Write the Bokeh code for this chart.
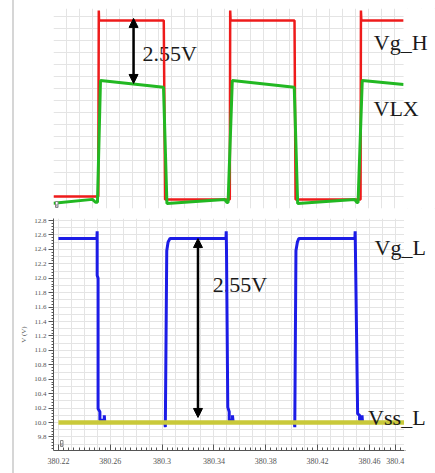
import numpy as np
from bokeh.plotting import figure
from bokeh.layouts import column, row
from bokeh.models import (Range1d, FixedTicker, SingleIntervalTicker, Arrow,
                          NormalHead, Label, ColumnDataSource, BoxAnnotation, Spacer)
from bokeh.core.properties import value
from bokeh.embed import file_html
from bokeh.resources import INLINE

# ---------------- data ----------------
# top panel: high-side gate (Vg_H) and switch node (VLX), volts (relative)
vgh_t = [380.2200, 380.2541, 380.2545, 380.2547, 380.3040, 380.3050, 380.3543,
         380.3546, 380.3549, 380.4036, 380.4044, 380.4539, 380.4542, 380.4545, 380.4867]
vgh_v = [0.50, 0.50, 8.25, 7.83, 7.83, 0.38, 0.38, 8.25, 7.83, 7.83, 0.38, 0.38,
         8.25, 7.83, 7.83]

vlx_t = [380.2200, 380.2497, 380.2520, 380.2535, 380.2558, 380.3038, 380.3064,
         380.3503, 380.3522, 380.3530, 380.3562, 380.4034, 380.4060, 380.4493,
         380.4512, 380.4520, 380.4552, 380.4867]
vlx_v = [0.22, 0.38, 0.26, 0.26, 5.33, 5.05, 0.21, 0.38, 0.25, 0.25, 5.33, 5.05,
         0.21, 0.38, 0.25, 0.25, 5.33, 5.17]

# bottom panel: low-side gate (Vg_L) and its reference (Vss_L), volts
vgl_t = [380.2200, 380.2497, 380.2499, 380.2499, 380.2506, 380.2506, 380.2520,
         380.2520, 380.2554, 380.2554, 380.2558,
         380.3021, 380.3025, 380.3036, 380.3046, 380.3061,
         380.3493, 380.3495, 380.3497, 380.3507, 380.3518, 380.3518, 380.3543,
         380.3543, 380.3549,
         380.4021, 380.4024, 380.4033, 380.4044, 380.4055,
         380.4488, 380.4490, 380.4492, 380.4509, 380.4524, 380.4524, 380.4543,
         380.4543, 380.4547, 380.4867]
vgl_v = [12.55, 12.55, 12.65, 12.04, 12.00, 10.19, 10.15, 10.03, 10.03, 10.10, 10.00,
         10.00, 9.935, 12.38, 12.50, 12.55,
         12.55, 12.65, 12.40, 10.21, 10.15, 10.03, 10.03, 10.10, 10.00,
         10.00, 9.935, 12.38, 12.50, 12.55,
         12.55, 12.65, 12.40, 10.12, 10.10, 10.03, 10.03, 10.10, 10.00, 10.00]

vss_t = [380.2200, 380.4867]
vss_v = [10.0, 10.0]

# annotations
top_arrow = dict(t=380.2810, v0=7.92, v1=5.21)
bot_arrow = dict(t=380.3277, v0=12.55, v1=10.07)
top_note = dict(t=380.2878, v=6.47, text="2.55V")
bot_note = dict(t=380.3391, v=11.92, text="2.55V")
top_names = [("Vg_H", 380.4640, 6.93), ("VLX", 380.4638, 4.15)]
bot_names = [("Vg_L", 380.4640, 12.43), ("Vss_L", 380.4590, 10.07)]

x_ticks = [380.22, 380.26, 380.30, 380.34, 380.38, 380.42, 380.46, 380.48]
x_tick_labels = ["380.22", "380.26", "380.3", "380.34", "380.38", "380.42",
                 "380.46", "380.4"]
y_ticks = [9.8, 10.0, 10.2, 10.4, 10.6, 10.8, 11.0, 11.2, 11.4, 11.6, 11.8,
           12.0, 12.2, 12.4, 12.6, 12.8]
y_tick_labels = ["9.8", "10.0", "10.2", "10.4", "10.6", "10.8", "11.0", "11.2",
                 "11.4", "11.6", "11.8", "12.0", "12.2", "12.4", "12.6", "12.8"]

T_END = 380.4867          # end of the recorded window
X_SPAN_END = 380.5110     # right edge of the canvas (room for trace names)

# ---------------- styling ----------------
RED = "#ee1b1b"
GREEN = "#22b822"
BLUE = "#1c1ce6"
YELLOW = "#c9c93a"
GRID = "#e4e4e4"
SERIF = "Liberation Serif"
TXT = "#1a1a1a"
EDGE = 14                 # width of the blank strip with the grey rule at left
FIG_W = 435 - EDGE

def base_style(p):
    p.outline_line_color = None
    p.background_fill_color = "white"
    p.border_fill_color = "white"
    for g in (p.xgrid, p.ygrid):
        g.grid_line_color = GRID
        g.grid_line_width = 1

def add_mask(p):
    # blank area right of the recorded window, where the trace names sit
    p.add_layout(BoxAnnotation(left=T_END, fill_color="white", fill_alpha=1.0,
                               line_color=None))

def add_arrow(p, a):
    p.add_layout(Arrow(
        start=NormalHead(size=9, fill_color="black", line_color="black"),
        end=NormalHead(size=9, fill_color="black", line_color="black"),
        x_start=a["t"], y_start=a["v0"], x_end=a["t"], y_end=a["v1"],
        line_color="black", line_width=2.5))

def add_note(p, n):
    src = ColumnDataSource(dict(x=[n["t"]], y=[n["v"]], text=[n["text"]]))
    p.text(x="x", y="y", text="text", source=src, text_font=value(SERIF),
           text_font_size="22px", text_color=TXT, text_align="left",
           text_baseline="middle")

def add_names(p, names):
    for txt, t, v in names:
        p.add_layout(Label(x=t, y=v, text=txt, text_font=SERIF,
                           text_font_size="22px", text_color=TXT,
                           text_align="left", text_baseline="alphabetic"))

# ---------------- top panel ----------------
top = figure(width=FIG_W, height=211, x_range=Range1d(380.22, X_SPAN_END),
             y_range=Range1d(0, 8.333), x_axis_location=None, y_axis_location=None,
             toolbar_location=None, output_backend="svg",
             min_border_left=53 - EDGE, min_border_right=0, min_border_top=8,
             min_border_bottom=3)
base_style(top)
top.xgrid.ticker = SingleIntervalTicker(interval=0.01)
top.ygrid.ticker = SingleIntervalTicker(interval=0.5)

add_note(top, top_note)
top.line(vgh_t, vgh_v, line_color=RED, line_width=2.5)
top.line(vlx_t, vlx_v, line_color=GREEN, line_width=3)
add_mask(top)
add_arrow(top, top_arrow)
add_names(top, top_names)
top.add_layout(Label(x=2, y=1, x_units="screen", y_units="screen", text="x",
                     text_font_size="5px", text_color="#666",
                     border_line_color="#888", background_fill_color="white"))

# ---------------- bottom panel ----------------
bot = figure(width=FIG_W, height=262, x_range=Range1d(380.2162, X_SPAN_END),
             y_range=Range1d(9.612, 12.828), toolbar_location=None,
             output_backend="svg", min_border_left=48 - EDGE, min_border_right=0,
             min_border_top=7, min_border_bottom=23)
base_style(bot)
bot.xgrid.ticker = SingleIntervalTicker(interval=0.01)
bot.ygrid.ticker = SingleIntervalTicker(interval=0.1)

bot.xaxis.ticker = FixedTicker(ticks=x_ticks,
                               minor_ticks=list(np.arange(380.216, 380.4881, 0.004)))
bot.xaxis.major_label_overrides = dict(zip(x_ticks, x_tick_labels))
bot.xaxis.bounds = (380.2162, T_END)
bot.yaxis.ticker = FixedTicker(ticks=y_ticks,
                               minor_ticks=list(np.arange(9.64, 12.82, 0.04)))
bot.yaxis.major_label_overrides = dict(zip(y_ticks, y_tick_labels))

for ax in (bot.xaxis[0], bot.yaxis[0]):
    ax.axis_line_color = "#555555"
    ax.major_tick_line_color = "#555555"
    ax.minor_tick_line_color = "#555555"
    ax.major_label_text_font = SERIF
    ax.major_label_text_color = "#555555"

bot.xaxis.major_tick_in = 6
bot.xaxis.major_tick_out = 0
bot.xaxis.minor_tick_in = 3
bot.xaxis.minor_tick_out = 0
bot.xaxis.major_label_standoff = 7
bot.xaxis.major_label_text_font_size = "8px"

bot.yaxis.major_tick_in = 0
bot.yaxis.major_tick_out = 5
bot.yaxis.minor_tick_in = 0
bot.yaxis.minor_tick_out = 2
bot.yaxis.major_label_standoff = 2
bot.yaxis.major_label_text_font_size = "7px"
bot.yaxis.axis_label = "V (V)"
bot.yaxis.axis_label_text_font = SERIF
bot.yaxis.axis_label_text_font_size = "7px"
bot.yaxis.axis_label_text_font_style = "normal"
bot.yaxis.axis_label_text_color = "#555555"
bot.yaxis.axis_label_standoff = 3

add_note(bot, bot_note)
bot.line(vgl_t, vgl_v, line_color=BLUE, line_width=3)
bot.line(vss_t, vss_v, line_color=YELLOW, line_width=4.5)
add_mask(bot)
add_arrow(bot, bot_arrow)
add_names(bot, bot_names)
bot.add_layout(Label(x=7, y=4, x_units="screen", y_units="screen", text="x",
                     text_font_size="5px", text_color="#666",
                     border_line_color="#888", background_fill_color="white"))

edge = Spacer(width=EDGE, height=473,
              styles={"border-right": "2px solid #d6d6d6", "box-sizing": "border-box"})
layout = row(edge, column(top, bot, spacing=0), spacing=0)
open("out.html", "w").write(file_html(layout, INLINE))
